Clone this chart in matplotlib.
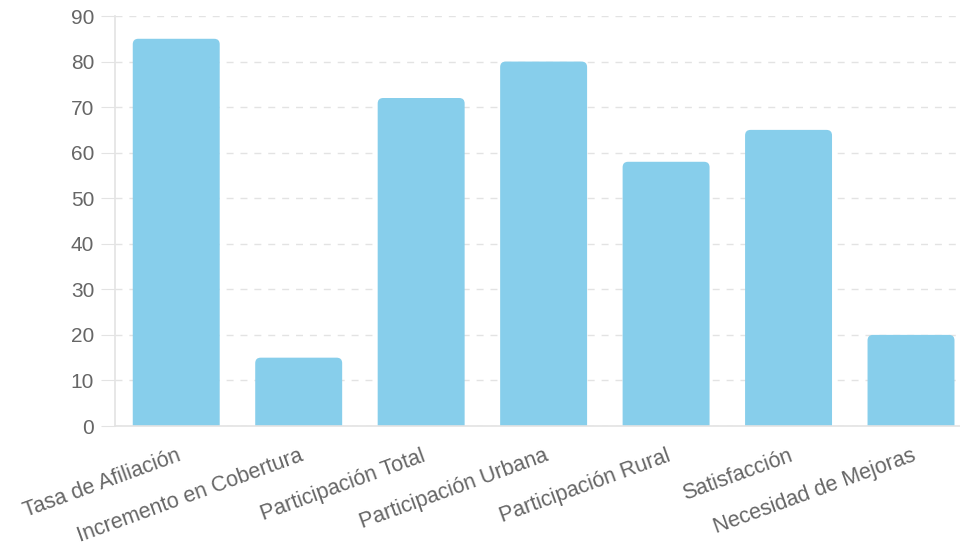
import matplotlib.pyplot as plt
from matplotlib.patches import FancyBboxPatch

plt.rcParams['font.family'] = ['Liberation Sans', 'DejaVu Sans']

categories = ['Tasa de Afiliación', 'Incremento en Cobertura', 'Participación Total',
              'Participación Urbana', 'Participación Rural', 'Satisfacción',
              'Necesidad de Mejoras']
values = [85, 15, 72, 80, 58, 65, 20]

bar_color = '#87CEEB'
grid_color = '#e3e3e3'
text_color = '#666666'

fig = plt.figure(figsize=(9.6, 5.46), dpi=100)
ax = fig.add_axes([115 / 960, 120 / 546, 845 / 960, 410 / 546])

x = list(range(len(categories)))
bars = ax.bar(x, values, width=0.71, color=bar_color)

ax.set_xlim(-0.5, 6.4)
ax.set_ylim(0, 90)

# swap the plain rectangles for rounded ones (bottom hidden below the axis)
px_x = 845 / 6.9
px_y = 410 / 90
aspect = px_x / px_y
for b in bars:
    b.set_visible(False)
    rb = FancyBboxPatch((b.get_x(), -3), b.get_width(), b.get_height() + 3,
                        boxstyle='round,pad=0,rounding_size=0.045',
                        mutation_aspect=aspect, facecolor=bar_color,
                        edgecolor='none', clip_on=True)
    ax.add_patch(rb)

ax.set_yticks(range(0, 91, 10))
ax.grid(axis='y', color=grid_color, linestyle=(0, (5, 5)), linewidth=1)
ax.set_axisbelow(True)

ax.set_xticks(x)
ax.set_xticklabels(categories, rotation=20, ha='right', rotation_mode='anchor')

for s in ['top', 'right']:
    ax.spines[s].set_visible(False)
for s in ['left', 'bottom']:
    ax.spines[s].set_color(grid_color)
    ax.spines[s].set_linewidth(1.2)

ax.tick_params(axis='y', length=10, color=grid_color, labelsize=15,
               labelcolor=text_color, pad=5)
ax.tick_params(axis='x', length=0, labelsize=15.5, labelcolor=text_color, pad=14)

plt.savefig('out.png', dpi=100)
